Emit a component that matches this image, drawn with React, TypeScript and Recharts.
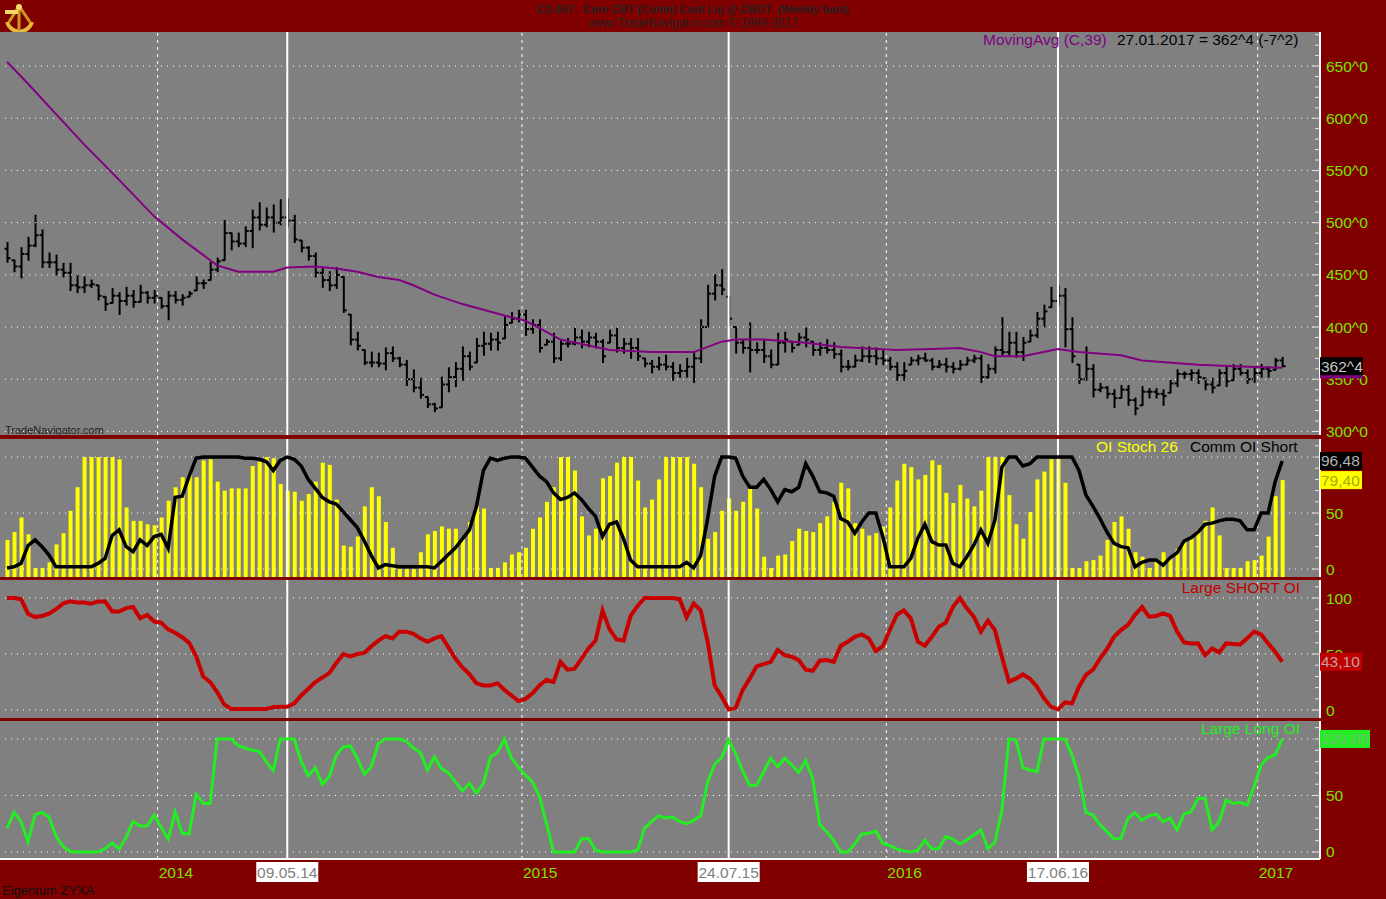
import React from 'react';
import { ComposedChart, Bar, Line, XAxis, YAxis, ReferenceLine } from 'recharts';

const MAROON = '#800000';
const PANEL_GRAY = '#808080';
const AXIS_GREEN = '#7ee000';
const FONT = "'Liberation Sans', Arial, sans-serif";
const FS = 15.5;

// weekly OHLC, corn continuous contract (cents)
const HIGH = [
  481, 464, 476, 486, 507, 493, 471, 469, 461, 461,
  450, 448, 445, 440, 429, 437, 433, 438, 435, 440,
  434, 435, 428, 434, 434, 431, 434, 448, 445, 462,
  466, 502, 490, 490, 496, 512, 519, 514, 517, 522,
  523, 507, 483, 477, 471, 457, 453, 457, 448, 412,
  395, 378, 376, 375, 380, 381, 371, 368, 359, 351,
  333, 327, 352, 361, 366, 381, 376, 389, 395, 394,
  395, 411, 414, 416, 416, 407, 407, 388, 394, 388,
  389, 399, 397, 395, 394, 388, 397, 399, 389, 389,
  389, 370, 368, 371, 373, 366, 364, 370, 376, 407,
  440, 450, 455, 429, 400, 388, 404, 385, 388, 378,
  394, 395, 386, 394, 399, 386, 385, 388, 385, 378,
  368, 373, 381, 381, 380, 378, 371, 366, 366, 371,
  373, 375, 370, 368, 370, 366, 368, 371, 373, 373,
  364, 381, 409, 395, 395, 390, 397, 414, 421, 438,
  440, 437, 409, 364, 381, 364, 346, 343, 340, 344,
  344, 332, 343, 341, 341, 340, 349, 359, 357, 359,
  359, 351, 351, 359, 362, 364, 364, 359, 361, 364,
  362, 370, 371,
];
const LOW = [
  462, 453, 447, 464, 477, 457, 457, 450, 448, 435,
  433, 433, 438, 426, 416, 423, 412, 421, 419, 424,
  423, 423, 418, 407, 423, 421, 429, 435, 437, 445,
  453, 464, 474, 477, 477, 476, 493, 496, 491, 498,
  496, 481, 472, 464, 448, 438, 435, 437, 414, 383,
  378, 364, 362, 362, 359, 367, 362, 344, 338, 332,
  323, 319, 323, 338, 343, 349, 359, 366, 373, 378,
  378, 389, 404, 405, 392, 394, 376, 383, 366, 368,
  381, 383, 380, 381, 380, 366, 385, 376, 375, 370,
  368, 362, 356, 359, 359, 349, 352, 352, 347, 366,
  400, 426, 431, 402, 375, 375, 357, 375, 366, 361,
  364, 376, 376, 383, 381, 373, 373, 375, 370, 357,
  359, 362, 367, 366, 364, 364, 359, 349, 349, 364,
  364, 367, 359, 361, 357, 356, 359, 364, 366, 347,
  351, 356, 373, 373, 371, 368, 386, 390, 400, 419,
  421, 381, 366, 346, 349, 333, 338, 332, 323, 332,
  325, 316, 325, 332, 332, 325, 337, 343, 351, 349,
  346, 340, 337, 344, 343, 349, 354, 346, 347, 352,
  352, 359, 362,
];
const OPEN = [
  475, 466, 458, 470, 478, 488, 462, 462, 455, 452,
  440, 438, 440, 441, 430, 422, 430, 425, 430, 424,
  433, 428, 430, 420, 430, 426, 428, 432, 442, 442,
  455, 463, 490, 482, 480, 492, 505, 498, 505, 500,
  505, 502, 484, 476, 468, 452, 445, 440, 450, 416,
  388, 382, 366, 366, 365, 375, 370, 364, 350, 342,
  335, 326, 322, 345, 352, 360, 372, 362, 382, 384,
  388, 385, 402, 408, 412, 398, 402, 380, 386, 370,
  384, 384, 390, 386, 390, 386, 372, 392, 380, 384,
  380, 372, 365, 362, 364, 362, 356, 358, 362, 370,
  400, 432, 440, 436, 408, 385, 380, 378, 378, 372,
  364, 385, 388, 380, 390, 388, 378, 380, 378, 374,
  362, 362, 368, 372, 372, 370, 368, 362, 354, 358,
  368, 370, 368, 362, 364, 362, 360, 364, 368, 370,
  352, 360, 378, 376, 385, 376, 385, 392, 408, 415,
  425, 430, 398, 372, 350, 360, 340, 342, 336, 332,
  340, 330, 322, 338, 338, 336, 334, 346, 355, 355,
  356, 352, 345, 342, 356, 348, 360, 356, 350, 356,
  360, 358, 368,
];
const CLOSE = [
  466, 458, 470, 478, 488, 462, 462, 455, 452, 440,
  438, 440, 441, 430, 422, 430, 425, 430, 424, 433,
  428, 430, 420, 430, 426, 428, 432, 442, 442, 455,
  463, 490, 482, 480, 492, 505, 498, 505, 500, 505,
  502, 484, 476, 468, 452, 445, 440, 450, 416, 388,
  382, 366, 366, 365, 375, 370, 364, 350, 342, 335,
  326, 322, 345, 352, 360, 372, 362, 382, 384, 388,
  385, 402, 408, 412, 398, 402, 380, 386, 370, 384,
  384, 390, 386, 390, 386, 372, 392, 380, 384, 380,
  372, 365, 362, 364, 362, 356, 358, 362, 370, 400,
  432, 440, 436, 408, 385, 380, 378, 378, 372, 364,
  385, 388, 380, 390, 388, 378, 380, 378, 374, 362,
  362, 368, 372, 372, 370, 368, 362, 354, 358, 368,
  370, 368, 362, 364, 362, 360, 364, 368, 370, 352,
  360, 378, 376, 385, 376, 385, 392, 408, 415, 425,
  430, 398, 372, 350, 360, 340, 342, 336, 332, 340,
  330, 322, 338, 338, 336, 334, 346, 355, 355, 356,
  352, 345, 342, 356, 348, 360, 356, 350, 356, 360,
  358, 368, 362.5,
];

// MovingAvg (C,39) read at these bars
const MA_AT = [0, 3, 7, 11, 16, 21, 25, 30, 33, 38, 40, 44, 47, 50, 53, 56, 58, 61, 65, 71, 74, 76, 79, 86, 92, 98, 102, 104, 108, 114, 119, 127, 132, 136, 139, 141, 145, 150, 153, 159, 162, 170, 177, 182];
const MA_VALUE = [654, 633, 604, 575, 541, 506, 484, 459, 453, 453, 457, 458, 456, 453, 448, 445, 440, 431, 422, 411, 406, 399, 388, 378, 376, 376, 386, 388, 388, 385, 381, 378, 379, 380, 376, 372, 372, 379, 376, 373, 368, 364, 362, 361];

const OI_STOCH = [
  26, 33, 46, 31, 1, 1, 6, 22, 32, 52,
  73, 100, 100, 100, 100, 100, 98, 55, 43, 43,
  40, 39, 46, 61, 73, 82, 85, 82, 97, 98,
  78, 70, 72, 72, 72, 92, 96, 100, 99, 76,
  70, 69, 61, 67, 78, 95, 93, 62, 21, 20,
  29, 56, 73, 65, 42, 19, 0, 0, 0, 15,
  31, 34, 38, 36, 36, 28, 42, 56, 54, 1,
  1, 6, 13, 15, 19, 36, 46, 60, 73, 100,
  100, 88, 47, 30, 36, 81, 83, 95, 100, 100,
  79, 55, 62, 80, 100, 100, 100, 100, 94, 73,
  27, 33, 52, 63, 52, 60, 72, 54, 11, 1,
  12, 13, 25, 36, 34, 33, 41, 47, 60, 77,
  72, 41, 36, 30, 32, 38, 55, 79, 94, 91,
  80, 84, 97, 93, 68, 59, 75, 63, 56, 70,
  100, 100, 100, 66, 40, 27, 51, 80, 87, 98,
  98, 77, 1, 1, 7, 8, 12, 26, 42, 47,
  36, 15, 11, 1, 8, 15, 11, 18, 24, 28,
  35, 43, 55, 30, 1, 1, 1, 7, 8, 12,
  29, 65, 79.4,
];
const COMM_OI_SHORT = [
  1, 2, 5, 21, 26, 20, 12.5, 2, 2, 2,
  2, 2, 2, 5, 9.5, 30, 35, 20, 15.5, 26,
  21, 29, 31, 18.5, 64, 65, 83, 99, 100, 100,
  100, 100, 100, 100, 99, 99, 98, 96, 88, 97,
  100, 98, 92, 80, 72, 64, 60, 58, 51, 44,
  37, 25, 12, 1, 4, 3, 2, 2, 2, 2,
  2, 1, 7, 13, 19, 27, 35, 56, 88, 99,
  97, 99, 100, 100, 99, 91, 83, 78, 68, 62,
  64, 68, 62, 54, 47, 29, 40, 42, 27, 8,
  2, 2, 2, 2, 2, 2, 2, 6, 1, 12,
  45, 83, 100, 100, 99, 83, 73, 73, 80, 71,
  60, 71, 69, 73, 94, 83, 69, 68, 65, 45,
  42, 32, 42, 50, 50, 29, 2, 2, 2, 9.5,
  27.5, 40, 24.5, 21.5, 21.5, 5, 2, 11, 21.5, 35,
  23, 43.7, 91, 100, 100, 92, 94, 100, 100, 100,
  100, 100, 100, 88, 66, 56, 45, 33, 23, 20,
  19, 2, 6, 8, 8, 3.5, 10, 14.5, 25, 28,
  33, 40, 41, 43, 44.4, 44.4, 43, 35, 35, 50,
  50, 78, 96.48,
];
const LARGE_SHORT_OI = [
  100, 100, 99, 86, 83, 84, 86, 90, 95, 97,
  96, 96, 95, 97, 97, 88, 88, 91, 92, 82,
  85, 79, 78, 72, 69, 65, 60, 48, 30, 25,
  16, 5, 1, 1, 1, 1, 1, 1, 2.5, 3,
  3, 6, 13, 19, 25, 29, 33, 42, 50, 48,
  50, 51, 57, 62, 66, 64, 70, 70, 68, 64,
  61, 64, 66, 56, 46, 38, 32, 24, 22, 22,
  24, 18, 13, 8, 10, 15, 22, 27, 25, 43,
  36, 37, 46, 55, 62, 89, 72, 63, 62, 84,
  93, 100, 100, 100, 100, 100, 99, 83, 95, 89,
  61, 22, 12, 0.5, 2, 18, 28, 39, 41, 43,
  53.6, 49, 47.6, 44.6, 36, 35, 44, 44.6, 43, 57.4,
  61, 65.4, 67.5, 64, 52.7, 57, 71.4, 85, 89, 81.8,
  61, 57.4, 65.4, 74.4, 78, 92, 100, 90.8, 83.3, 70,
  79.8, 71.4, 47.6, 25.3, 28, 31.8, 28, 20.8, 10.4, 3,
  0.5, 6.8, 6, 20.8, 31.3, 36, 46, 54.5, 65.4, 71.4,
  76, 85, 92, 83.3, 84, 86.3, 84, 70, 60.4, 59.5,
  59.5, 49, 55, 51.5, 59.5, 59, 58.6, 64, 70, 67.5,
  59.5, 52, 43.1,
];
const LARGE_LONG_OI = [
  21, 35, 27, 9, 33, 35, 31, 14, 5, 0.5,
  0, 0, 0, 0, 3, 8, 2.7, 13, 27, 23,
  23, 32.7, 22, 11.5, 35.7, 16.5, 16, 51, 43, 43,
  100, 100, 100, 94, 92, 90, 89, 80, 72, 100,
  100, 100, 80, 67.5, 74.6, 60, 66.7, 85.8, 93, 93.8,
  83, 68.7, 75.5, 96, 100, 100, 100, 98, 92, 88,
  72.6, 84, 74, 70, 62, 54, 60.8, 52, 60.8, 84,
  88, 100, 83, 75, 68, 62, 49, 25, 0, 0,
  0, 0, 11.5, 12, 1.5, 0, 0, 0, 0, 0,
  1.5, 21, 27, 32, 30, 31, 27, 25, 28, 32,
  62, 77.5, 83.5, 99, 87, 71.5, 59, 59, 71, 83,
  75.5, 83, 77, 70.5, 81, 65, 24, 18, 10, 0,
  0, 7, 16, 16.5, 18.5, 7.6, 5.6, 2.7, 1, 0,
  1.5, 10.6, 2.7, 3, 13.6, 11.5, 7, 10.6, 15, 19.5,
  3, 8.6, 37, 100, 99, 74.6, 72.6, 71, 100, 100,
  100, 100, 85.8, 66.7, 35, 32.7, 24, 18, 11.5, 12,
  30, 34.8, 28, 32, 33.6, 26.8, 30, 19.5, 33.6, 35.7,
  47.5, 47.5, 19.5, 26.8, 46, 43, 44, 41.5, 58, 77,
  83.8, 85.8, 100,
];

const FIRST_BAR = Date.UTC(2013, 7, 2);
const WEEK_MS = 7 * 24 * 3600 * 1000;
const MARKER_DATES = ['09.05.14', '24.07.15', '17.06.16'];
const YEARS = [2014, 2015, 2016, 2017];

const pad = (n: number) => String(n).padStart(2, '0');
const fmt = (d: Date) => `${pad(d.getUTCDate())}.${pad(d.getUTCMonth() + 1)}.${pad(d.getUTCFullYear() % 100)}`;
const dates = HIGH.map((_, i) => new Date(FIRST_BAR + i * WEEK_MS));
const markerIdx = MARKER_DATES.map((s) => dates.findIndex((d) => fmt(d) === s));
const yearIdx = YEARS.map((y) => dates.findIndex((d) => d.getUTCFullYear() === y) - 0.5);

const rows = HIGH.map((h, i) => ({
  i,
  high: h,
  low: LOW[i],
  open: OPEN[i],
  close: CLOSE[i],
  ma: MA_AT.includes(i) ? MA_VALUE[MA_AT.indexOf(i)] : null,
  stoch: OI_STOCH[i],
  comm: COMM_OI_SHORT[i],
  short: LARGE_SHORT_OI[i],
  long: LARGE_LONG_OI[i],
}));

const X_DOMAIN = [-1, 187.4];
const W = 1386;
const STOCH_BASE = -7.1;

type Tag = { value: number; text: string; bg: string; color: string; w: number };

const range = (a: number, b: number, step: number) => {
  const out: number[] = [];
  for (let v = a; v <= b; v += step) out.push(v);
  return out;
};

function yTick(labelFor: (v: number) => string | null, tags: Tag[]) {
  return (p: any) => {
    const v = p.payload.value;
    const x = p.x;
    const y = p.y;
    const tag = tags.find((t) => Math.abs(t.value - v) < 1e-6);
    if (tag) {
      return (
        <g>
          <rect x={x} y={y - 9} width={tag.w} height={18} fill={tag.bg} />
          <text x={x + 1} y={y + 5.5} fill={tag.color} fontSize={FS} fontFamily={FONT}>{tag.text}</text>
        </g>
      );
    }
    const label = labelFor(v);
    return (
      <g>
        <line x1={x - (label ? 8 : 5)} x2={x} y1={y} y2={y} stroke="#e6e6e6" strokeWidth={1} />
        {label && (
          <text x={x + 6} y={y + 5.5} fill={AXIS_GREEN} fontSize={FS} fontFamily={FONT}>{label}</text>
        )}
      </g>
    );
  };
}

const xTick = (p: any) => {
  const v = p.payload.value;
  const x = p.x;
  const y = p.y;
  const m = markerIdx.indexOf(v);
  if (m >= 0) {
    return (
      <g>
        <rect x={x - 31} y={y + 3} width={62} height={20} fill="#ffffff" />
        <text x={x} y={y + 18.5} textAnchor="middle" fill={PANEL_GRAY} fontSize={FS} fontFamily={FONT}>{MARKER_DATES[m]}</text>
      </g>
    );
  }
  const yi = yearIdx.indexOf(v);
  return (
    <text x={x + 1} y={y + 18.5} fill={AXIS_GREEN} fontSize={FS} fontFamily={FONT}>{YEARS[yi]}</text>
  );
};

const OhlcBar = (props: any) => {
  const { x, y, width, height, payload } = props;
  if (x == null || y == null) return null;
  const top = Math.min(y, y + height);
  const h = Math.abs(height);
  const cx = x + width / 2;
  const span = payload.high - payload.low || 1;
  const clamp = (v: number) => Math.min(Math.max(v, payload.low), payload.high);
  const yAt = (v: number) => top + ((payload.high - clamp(v)) / span) * h;
  const yo = yAt(payload.open);
  const yc = yAt(payload.close);
  return (
    <g>
      <line x1={cx} x2={cx} y1={top - 0.5} y2={top + h + 0.5} stroke="#000" strokeWidth={2} />
      <line x1={cx - 3} x2={cx} y1={yo} y2={yo} stroke="#000" strokeWidth={2} />
      <line x1={cx} x2={cx + 3} y1={yc} y2={yc} stroke="#000" strokeWidth={2} />
    </g>
  );
};

const verticals = () => [
  ...yearIdx.map((v) => (
    <ReferenceLine key={'yr' + v} x={v} stroke="#ffffff" strokeDasharray="3 4" strokeWidth={1} />
  )),
  ...markerIdx.map((v) => <ReferenceLine key={'mk' + v} x={v} stroke="#ffffff" strokeWidth={2} />),
];

const hgrid = (vals: number[]) =>
  vals.map((v) => <ReferenceLine key={'h' + v} y={v} stroke="#ffffff" strokeDasharray="1 5" strokeWidth={1} />);

const noMargin = { top: 0, right: 0, bottom: 0, left: 0 };

function Panel({ top, height, plotHeight, children }: { top: number; height: number; plotHeight: number; children: React.ReactNode }) {
  return (
    <div style={{ position: 'absolute', left: 0, top, width: W, height }}>
      <div style={{ position: 'absolute', left: 0, top: 0, width: 1320, height: plotHeight, background: PANEL_GRAY }} />
      <div style={{ position: 'absolute', left: 0, top: 0 }}>{children}</div>
    </div>
  );
}

const label = (text: string, style: React.CSSProperties) => (
  <div style={{ position: 'absolute', whiteSpace: 'pre', fontFamily: FONT, fontSize: FS, lineHeight: '18px', ...style }}>{text}</div>
);

export default function App() {
  const priceTicks = [...range(300, 680, 10), 359.5, 362.5];
  const priceTags: Tag[] = [
    { value: 359.5, text: '', bg: '#800080', color: '#fff', w: 43 },
    { value: 362.5, text: '362^4', bg: '#000000', color: '#c8c8c8', w: 43 },
  ];
  const stochTicks = [...range(0, 110, 10), 79.4, 96.48];
  const stochTags: Tag[] = [
    { value: 79.4, text: '79,40', bg: '#ffff00', color: '#a8a800', w: 42 },
    { value: 96.48, text: '96,48', bg: '#000000', color: '#b4b4b4', w: 42 },
  ];
  const shortTicks = [...range(0, 110, 10), 43.1];
  const shortTags: Tag[] = [{ value: 43.1, text: '43,10', bg: '#c00000', color: '#c0a0a0', w: 42 }];
  const longTicks = [...range(0, 110, 10), 100.001];
  const longTags: Tag[] = [{ value: 100.001, text: '100,00', bg: '#22ee22', color: '#70c070', w: 50 }];
  const pct = (show: number[]) => (v: number) => (show.includes(v) ? String(v) : null);

  return (
    <div style={{ position: 'absolute', left: 0, top: 0, width: W, height: 899, background: MAROON, overflow: 'hidden', fontFamily: FONT }}>
      <style>{'.recharts-surface{overflow:visible}'}</style>
      <svg width={34} height={32} style={{ position: 'absolute', left: 2, top: 1 }}>
        <path d="M5 21 A13 13 0 0 0 30 21" fill="none" stroke="#e3b93a" strokeWidth={4} />
        <path d="M17 5 L7 21 M17 5 L28 21 M17 5 L17 28" stroke="#c99a1c" strokeWidth={3} />
        <rect x={3} y={9} width={13} height={4} fill="#f2d468" />
        <circle cx={17} cy={6} r={3} fill="#f5d76e" />
      </svg>
      <div style={{ position: 'absolute', left: 0, width: W, top: 2, textAlign: 'center', fontSize: 11, fontWeight: 'bold', color: '#222', whiteSpace: 'pre', lineHeight: '14px' }}>
        {'C2-057:  Corn CBT (Comb) Cont Liq @ CBOT  (Weekly bars)'}
      </div>
      <div style={{ position: 'absolute', left: 0, width: W, top: 16, textAlign: 'center', fontSize: 12, color: '#222', lineHeight: '15px' }}>
        www.TradeNavigator.com © 1999-2017
      </div>

      <Panel top={32} height={403} plotHeight={403}>
        <ComposedChart width={W} height={403} data={rows} margin={noMargin}>
          <XAxis type="number" dataKey="i" domain={X_DOMAIN} allowDataOverflow hide />
          <YAxis
            orientation="right"
            width={66}
            type="number"
            domain={[296.6, 682.6]}
            allowDataOverflow
            ticks={priceTicks}
            interval={0}
            tickLine={false}
            tickSize={0}
            tickMargin={0}
            axisLine={{ stroke: '#ffffff', strokeWidth: 2 }}
            tick={yTick((v) => (v % 50 === 0 && v <= 650 ? `${v}^0` : null), priceTags)}
          />
          {hgrid(range(300, 650, 50))}
          {verticals()}
          <Bar dataKey={(r: any) => [r.low, r.high]} barSize={6} shape={OhlcBar} isAnimationActive={false} />
          <Line dataKey="ma" connectNulls stroke="#800080" strokeWidth={2} dot={false} isAnimationActive={false} />
        </ComposedChart>
      </Panel>

      <Panel top={439} height={138} plotHeight={138}>
        <ComposedChart width={W} height={138} data={rows} margin={noMargin}>
          <XAxis type="number" dataKey="i" domain={X_DOMAIN} allowDataOverflow hide />
          <YAxis
            orientation="right"
            width={66}
            type="number"
            domain={[STOCH_BASE, 116.1]}
            allowDataOverflow
            ticks={stochTicks}
            interval={0}
            tickLine={false}
            tickSize={0}
            tickMargin={0}
            axisLine={{ stroke: '#ffffff', strokeWidth: 2 }}
            tick={yTick(pct([0, 50]), stochTags)}
          />
          {hgrid([0, 50, 100])}
          {verticals()}
          <Bar dataKey={(r: any) => [STOCH_BASE, r.stoch]} barSize={4} fill="#ffff00" isAnimationActive={false} />
          <Line dataKey="comm" stroke="#000000" strokeWidth={3.5} dot={false} isAnimationActive={false} />
        </ComposedChart>
      </Panel>

      <Panel top={580} height={138} plotHeight={138}>
        <ComposedChart width={W} height={138} data={rows} margin={noMargin}>
          <XAxis type="number" dataKey="i" domain={X_DOMAIN} allowDataOverflow hide />
          <YAxis
            orientation="right"
            width={66}
            type="number"
            domain={[-7.1, 116.1]}
            allowDataOverflow
            ticks={shortTicks}
            interval={0}
            tickLine={false}
            tickSize={0}
            tickMargin={0}
            axisLine={{ stroke: '#ffffff', strokeWidth: 2 }}
            tick={yTick(pct([0, 50, 100]), shortTags)}
          />
          {hgrid([0, 50, 100])}
          {verticals()}
          <Line dataKey="short" stroke="#c80000" strokeWidth={4} dot={false} isAnimationActive={false} />
        </ComposedChart>
      </Panel>

      <Panel top={721} height={178} plotHeight={138}>
        <ComposedChart width={W} height={178} data={rows} margin={noMargin}>
          <XAxis
            type="number"
            dataKey="i"
            domain={X_DOMAIN}
            allowDataOverflow
            height={40}
            ticks={[...yearIdx, ...markerIdx].sort((a, b) => a - b)}
            interval={0}
            tickLine={false}
            tickSize={0}
            tickMargin={0}
            axisLine={{ stroke: '#ffffff', strokeWidth: 2 }}
            tick={xTick}
          />
          <YAxis
            orientation="right"
            width={66}
            type="number"
            domain={[-6.2, 115.9]}
            allowDataOverflow
            ticks={longTicks}
            interval={0}
            tickLine={false}
            tickSize={0}
            tickMargin={0}
            axisLine={{ stroke: '#ffffff', strokeWidth: 2 }}
            tick={yTick(pct([0, 50]), longTags)}
          />
          {hgrid([0, 50, 100])}
          {verticals()}
          <Line dataKey="long" stroke="#22ee22" strokeWidth={3} dot={false} isAnimationActive={false} />
        </ComposedChart>
      </Panel>

      {label('MovingAvg (C,39)', { left: 983, top: 31, color: '#800080' })}
      {label('27.01.2017 = 362^4 (-7^2)', { left: 1117, top: 31, color: '#000' })}
      {label('TradeNavigator.com', { left: 5, top: 423, fontSize: 11, lineHeight: '14px', color: '#222' })}
      {label('OI Stoch 26', { left: 1096, top: 438, color: '#ffff00' })}
      {label('Comm OI Short', { left: 1190, top: 438, color: '#000' })}
      {label('Large SHORT OI', { right: 86, top: 579, color: '#c00000' })}
      {label('Large Long OI', { right: 86, top: 720, color: '#22ee22' })}
      {label('Eigentum ZYXA', { left: 2, top: 883, fontSize: 13, lineHeight: '16px', color: '#111' })}
    </div>
  );
}
